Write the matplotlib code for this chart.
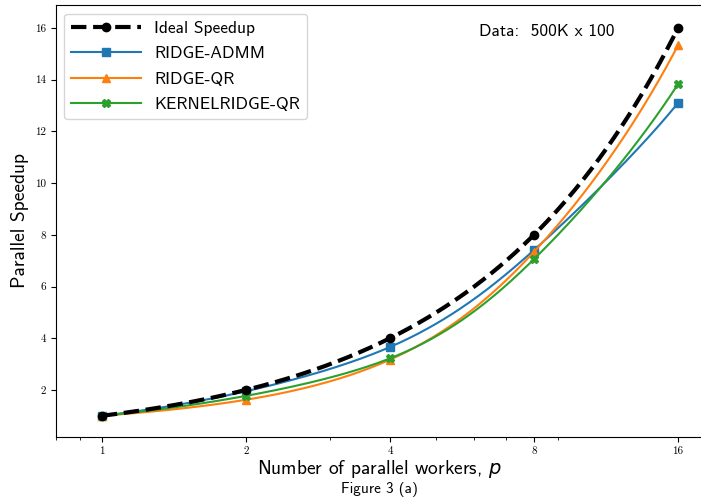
import matplotlib
matplotlib.use("Agg")
import matplotlib.pyplot as plt
import matplotlib.ticker as mticker
import numpy as np

plt.rcParams['font.family'] = ['cmss10', 'DejaVu Sans']
plt.rcParams['mathtext.fontset'] = 'custom'
plt.rcParams['mathtext.it'] = 'DejaVu Sans:italic'
plt.rcParams['axes.unicode_minus'] = False

workers = [1, 2, 4, 8, 16]
ideal = [1, 2, 4, 8, 16]
ridge_admm = [1.0, 1.95, 3.66, 7.41, 13.1]
ridge_qr = [1.0, 1.62, 3.17, 7.34, 15.33]
kernelridge_qr = [1.0, 1.77, 3.22, 7.06, 13.83]

x_ticks = [1, 2, 4, 8, 16]
y_ticks = [2, 4, 6, 8, 10, 12, 14, 16]


def natural_spline(x, y, n_seg=60):
    """
    Natural cubic spline through (x, y); returns the curve and the
    indices where the original points sit on it
    """
    x = np.asarray(x, float)
    y = np.asarray(y, float)
    n = len(x)
    h = np.diff(x)
    A = np.zeros((n, n))
    b = np.zeros(n)
    A[0, 0] = A[-1, -1] = 1.
    for i in range(1, n - 1):
        A[i, i - 1] = h[i - 1]
        A[i, i] = 2 * (h[i - 1] + h[i])
        A[i, i + 1] = h[i]
        b[i] = 3 * ((y[i + 1] - y[i]) / h[i] - (y[i] - y[i - 1]) / h[i - 1])
    c = np.linalg.solve(A, b)
    xs, ys, idx = [], [], []
    for i in range(n - 1):
        bi = (y[i + 1] - y[i]) / h[i] - h[i] * (2 * c[i] + c[i + 1]) / 3
        di = (c[i + 1] - c[i]) / (3 * h[i])
        t = np.linspace(0, h[i], n_seg, endpoint=False)
        idx.append(len(xs))
        xs.extend(x[i] + t)
        ys.extend(y[i] + bi * t + c[i] * t ** 2 + di * t ** 3)
    idx.append(len(xs))
    xs.append(x[-1])
    ys.append(y[-1])
    return np.array(xs), np.array(ys), idx


fig = plt.figure(figsize=(7.01, 5.01), dpi=100)
ax = fig.add_axes([55.5 / 701, 64 / 501, 647 / 701, 432 / 501])

series = [
    (ridge_admm, 'RIDGE-ADMM', '#1f77b4', 's'),
    (ridge_qr, 'RIDGE-QR', '#ff7f0e', '^'),
    (kernelridge_qr, 'KERNELRIDGE-QR', '#2ca02c', 'X'),
]

xs, ys, idx = natural_spline(workers, ideal)
ax.plot(xs, ys, '--', color='black', linewidth=3, marker='o', markersize=6,
        markevery=idx, label='Ideal Speedup', zorder=4)
for values, name, color, marker in series:
    xs, ys, idx = natural_spline(workers, values)
    ax.plot(xs, ys, color=color, linewidth=1.5, marker=marker, markersize=6,
            markevery=idx, label=name, zorder=3)

ax.set_xscale('log')
ax.set_xlim(0.8, 18)
ax.set_ylim(0.18, 16.89)
ax.set_xticks(x_ticks)
ax.set_xticklabels([str(v) for v in x_ticks], family='cmr10')
ax.set_yticks(y_ticks)
ax.set_yticklabels([str(v) for v in y_ticks], family='cmr10')
ax.xaxis.set_minor_formatter(mticker.NullFormatter())
ax.tick_params(axis='both', which='major', labelsize=8, length=3.5)
ax.tick_params(axis='x', which='minor', length=2)

ax.set_xlabel('Number of parallel workers, $\\mathit{p}$', fontsize=14, labelpad=1)
ax.set_ylabel('Parallel Speedup', fontsize=14)
ax.text(0.5, -0.104, 'Figure 3 (a)', transform=ax.transAxes,
        ha='center', va='top', fontsize=11)
ax.text(0.655, 0.955, 'Data:  500K x 100', transform=ax.transAxes,
        ha='left', va='top', fontsize=12.5)

ax.legend(loc='upper left', fontsize=12.5, handlelength=4, labelspacing=0.6)

fig.savefig('out.png', dpi=100)
